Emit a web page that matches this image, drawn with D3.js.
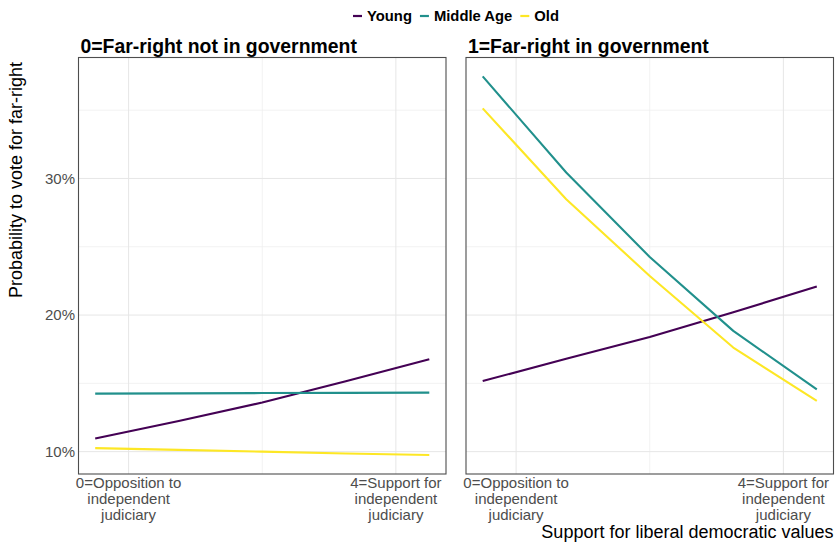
<!DOCTYPE html>
<html>
<head>
<meta charset="utf-8">
<script src="https://cdn.jsdelivr.net/npm/d3@7"></script>
<style>
  html, body { margin: 0; padding: 0; background: #fff; }
  svg { display: block; font-family: Arial, "Liberation Sans", sans-serif; }
</style>
</head>
<body>
<svg id="chart" width="838" height="544"></svg>
<script>
// Predicted probability of voting far-right, by age group and support for an independent judiciary
const xValues = [-0.5, 0.75, 2, 3.25, 4.5];
const groups = ["Young", "Middle Age", "Old"];
const groupColors = ["#440154", "#21908C", "#FDE725"];
const panelTitles = ["0=Far-right not in government", "1=Far-right in government"];

// Far-right not in government
const notInGovYoung  = [10.97, 12.25, 13.6, 15.15, 16.76];
const notInGovMiddle = [14.25, 14.27, 14.29, 14.30, 14.32];
const notInGovOld    = [10.26, 10.13, 10.00, 9.87, 9.75];

// Far-right in government
const inGovYoung  = [15.17, 16.8, 18.4, 20.2, 22.09];
const inGovMiddle = [37.47, 30.44, 24.25, 18.84, 14.56];
const inGovOld    = [35.13, 28.48, 22.86, 17.62, 13.71];

const xTickValues = [0, 4];
const xTickLabels = [
  ["0=Opposition to", "independent", "judiciary"],
  ["4=Support for", "independent", "judiciary"]
];
const xMinorTicks = [2];
const yTickValues = [10, 20, 30];
const yMinorTicks = [15, 25, 35];

const panels = [
  [notInGovYoung, notInGovMiddle, notInGovOld],
  [inGovYoung, inGovMiddle, inGovOld]
];

const svg = d3.select("#chart");

// layout
const panelTop = 57.5, panelBottom = 474;
const panelLefts = [78.5, 466], panelWidth = 367.5;

// ggplot-style 5% expansion of the data range
function expand(ext) { const d = (ext[1] - ext[0]) * 0.05; return [ext[0] - d, ext[1] + d]; }
const allY = panels.flat(2);
const yScale = d3.scaleLinear().domain(expand(d3.extent(allY))).range([panelBottom, panelTop]);
const xDomain = expand(d3.extent(xValues));

const tickColor = "#4d4d4d";

panels.forEach((series, pi) => {
  const x0 = panelLefts[pi];
  const xScale = d3.scaleLinear().domain(xDomain).range([x0, x0 + panelWidth]);
  const g = svg.append("g");

  // minor grid
  g.selectAll(".vminor").data(xMinorTicks).join("line")
    .attr("x1", d => xScale(d)).attr("x2", d => xScale(d))
    .attr("y1", panelTop).attr("y2", panelBottom)
    .attr("stroke", "#efefef").attr("stroke-width", 0.8);
  g.selectAll(".hminor").data(yMinorTicks).join("line")
    .attr("x1", x0).attr("x2", x0 + panelWidth)
    .attr("y1", d => yScale(d)).attr("y2", d => yScale(d))
    .attr("stroke", "#efefef").attr("stroke-width", 0.8);
  // major grid
  g.selectAll(".vmajor").data(xTickValues).join("line")
    .attr("x1", d => xScale(d)).attr("x2", d => xScale(d))
    .attr("y1", panelTop).attr("y2", panelBottom)
    .attr("stroke", "#e6e6e6").attr("stroke-width", 1);
  g.selectAll(".hmajor").data(yTickValues).join("line")
    .attr("x1", x0).attr("x2", x0 + panelWidth)
    .attr("y1", d => yScale(d)).attr("y2", d => yScale(d))
    .attr("stroke", "#e6e6e6").attr("stroke-width", 1);

  // lines
  const line = d3.line().x((d, i) => xScale(xValues[i])).y(d => yScale(d));
  series.forEach((vals, si) => {
    g.append("path").datum(vals)
      .attr("d", line)
      .attr("fill", "none")
      .attr("stroke", groupColors[si])
      .attr("stroke-width", 2.1)
      .attr("stroke-linejoin", "round");
  });

  // border
  g.append("rect")
    .attr("x", x0).attr("y", panelTop)
    .attr("width", panelWidth).attr("height", panelBottom - panelTop)
    .attr("fill", "none").attr("stroke", "#4d4d4d").attr("stroke-width", 1.1);

  // strip title
  svg.append("text")
    .attr("x", x0 + 2).attr("y", 53)
    .attr("font-size", 19.4).attr("font-weight", "bold").attr("fill", "#000")
    .text(panelTitles[pi]);

  // x tick labels
  xTickValues.forEach((v, ti) => {
    const t = svg.append("text")
      .attr("text-anchor", "middle")
      .attr("font-size", 15).attr("fill", tickColor);
    xTickLabels[ti].forEach((s, li) => {
      t.append("tspan").attr("x", xScale(v)).attr("y", 487.5 + li * 16.2).text(s);
    });
  });
});

// y tick labels (left panel only)
svg.selectAll(".ylab").data(yTickValues).join("text")
  .attr("x", 75).attr("y", d => yScale(d) + 5.2)
  .attr("text-anchor", "end")
  .attr("font-size", 15).attr("fill", tickColor)
  .text(d => d + "%");

// axis titles
svg.append("text")
  .attr("transform", "translate(21.5,298) rotate(-90)")
  .attr("font-size", 18).attr("fill", "#000")
  .text("Probability to vote for far-right");
svg.append("text")
  .attr("x", 833.5).attr("y", 538)
  .attr("text-anchor", "end")
  .attr("font-size", 18).attr("fill", "#000")
  .text("Support for liberal democratic values");

// legend
const legend = svg.append("g");
let lx = 353;
groups.forEach((name, i) => {
  legend.append("line")
    .attr("x1", lx).attr("x2", lx + 9)
    .attr("y1", 16).attr("y2", 16)
    .attr("stroke", groupColors[i]).attr("stroke-width", 2.2);
  const t = legend.append("text")
    .attr("x", lx + 14).attr("y", 21)
    .attr("font-size", 14.8).attr("font-weight", "bold").attr("fill", "#000")
    .text(name);
  lx += 14 + t.node().getComputedTextLength() + 8;
});
</script>
</body>
</html>
